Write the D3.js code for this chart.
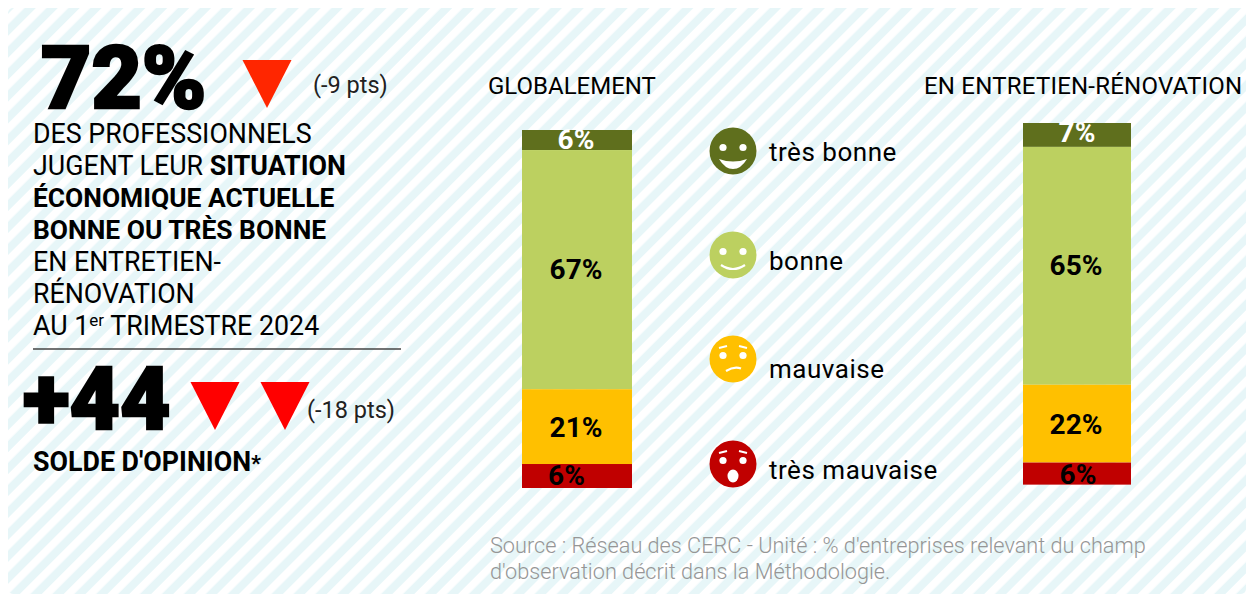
<!DOCTYPE html>
<html>
<head>
<meta charset="utf-8">
<script src="https://cdn.jsdelivr.net/npm/d3@7"></script>
<style>
  html, body { margin: 0; padding: 0; background: #fff; }
  svg { display: block; }
  text { font-family: Roboto, sans-serif; }
</style>
</head>
<body>
<svg id="chart" width="1246" height="594"></svg>
<script>
const categories = ["très bonne", "bonne", "mauvaise", "très mauvaise"];
const colors = ["#5f6f1d", "#bcd060", "#ffc000", "#c00000"];
const globalShares = [5.6, 66.8, 20.9, 6.7];
const globalLabels = ["6%", "67%", "21%", "6%"];
const renovShares = [6.6, 65.7, 21.5, 6.1];
const renovLabels = ["7%", "65%", "22%", "6%"];

const svg = d3.select("#chart");

/* background */
const defs = svg.append("defs");
defs.append("pattern")
  .attr("id", "stripes")
  .attr("patternUnits", "userSpaceOnUse")
  .attr("width", 15.5).attr("height", 16)
  .attr("patternTransform", "rotate(45)")
  .call(p => {
    p.append("rect").attr("width", 15.5).attr("height", 16).attr("fill", "#e7f6f8");
    p.append("rect").attr("width", 7.5).attr("height", 16).attr("fill", "#fff");
  });

svg.append("rect")
  .attr("x", 8).attr("y", 8).attr("width", 1238).attr("height", 586)
  .attr("rx", 5)
  .attr("fill", "url(#stripes)");

/* stacked bars */
function stackBar(shares, labels, x0, x1, yTop, yBottom, labelDy) {
  const y = d3.scaleLinear().domain([0, 100]).range([yTop, yBottom]);
  const x = d3.scaleLinear().domain([0, 1]).range([x0, x1]);
  const cum = d3.cumsum(shares);
  const g = svg.append("g");
  shares.forEach((v, i) => {
    const start = i === 0 ? 0 : cum[i - 1];
    g.append("rect")
      .attr("x", x(0)).attr("width", x(1) - x(0))
      .attr("y", y(start)).attr("height", y(start + v) - y(start))
      .attr("fill", colors[i]);
    g.append("text")
      .attr("x", x(0.5) + labelDy[i][0])
      .attr("y", y(start + v / 2) + labelDy[i][1])
      .attr("text-anchor", "middle")
      .attr("font-size", 28).attr("font-weight", 700)
      .attr("fill", i === 0 ? "#fff" : "#000")
      .text(labels[i]);
  });
}
stackBar(globalShares, globalLabels, 522, 632, 130, 488, [[-1, 9], [-1, 9], [-1, 10], [-10.5, 9]]);
stackBar(renovShares, renovLabels, 1023, 1131, 123, 485, [[0, 7.5], [-1, 9], [-1, 10], [1, 10.5]]);

/* column titles */
const title = (t, x, spacing) => svg.append("text").attr("x", x).attr("y", 94)
  .attr("font-size", 24).attr("letter-spacing", spacing).attr("fill", "#000").text(t);
title("GLOBALEMENT", 488, 0);
title("EN ENTRETIEN-RÉNOVATION", 924, 0.22);

/* legend with smileys */
const legendY = [151, 255, 359, 464];
const labelY = [161, 270, 378, 479];
const legend = svg.append("g").attr("transform", "translate(733,0)");
categories.forEach((c, i) => {
  const g = legend.append("g").attr("transform", `translate(0,${legendY[i]})`);
  g.append("circle").attr("r", 23.5).attr("fill", colors[i]);
  g.append("circle").attr("cx", -10).attr("cy", -3.5).attr("r", 3.6).attr("fill", "#fff");
  g.append("circle").attr("cx", 10).attr("cy", -3.5).attr("r", 3.6).attr("fill", "#fff");
  if (i === 0) {
    g.append("path").attr("d", "M-14,8Q0,13 14,8Q8,18 0,18Q-8,18 -14,8Z").attr("fill", "#fff");
  }
  if (i === 1) {
    g.append("path").attr("d", "M-12,10Q0,18 12,10").attr("fill", "none").attr("stroke", "#fff").attr("stroke-width", 2.2);
  }
  if (i === 2) {
    g.append("path").attr("d", "M-7,12Q1,7 8,9.5").attr("fill", "none").attr("stroke", "#fff").attr("stroke-width", 2.2);
  }
  if (i === 3) {
    g.append("ellipse").attr("cx", 0).attr("cy", 12).attr("rx", 5.5).attr("ry", 6.5).attr("fill", "#fff");
  }
  if (i >= 2) {
    g.append("path").attr("d", "M-14,-11L-6,-13").attr("stroke", "#fff").attr("stroke-width", 2.2);
    g.append("path").attr("d", "M6,-13L14,-11").attr("stroke", "#fff").attr("stroke-width", 2.2);
  }
  svg.append("text").attr("x", 769).attr("y", labelY[i])
    .attr("font-size", 26).attr("letter-spacing", 0.52).attr("fill", "#000").text(c);
});

/* left block: key figures */
const bigText = (t, x, y, size) => svg.append("text").attr("x", x).attr("y", y)
  .attr("font-size", size).attr("font-weight", 900)
  .attr("stroke", "#000").attr("stroke-width", 2.5)
  .attr("fill", "#000").text(t);
bigText("72%", 41, 108, 87);
bigText("+44", 23, 429, 87);

const tri = (cx, top, color) => svg.append("path")
  .attr("d", `M${cx - 24.5},${top}L${cx + 24.5},${top}L${cx},${top + 48}Z`)
  .attr("fill", color);
tri(267, 60, "#ff2600");
tri(215, 382, "#ff0000");
tri(285, 382, "#ff0000");

const note = (t, x, y) => svg.append("text").attr("x", x).attr("y", y)
  .attr("font-size", 23.5).attr("fill", "#222").text(t);
note("(-9 pts)", 313, 93);
note("(-18 pts)", 307, 418);

const leftLines = [
  [["DES PROFESSIONNELS", 400, 26.8]],
  [["JUGENT LEUR ", 400, 26.8], ["SITUATION", 700, 26.8]],
  [["ÉCONOMIQUE ACTUELLE", 700, 26.4]],
  [["BONNE OU TRÈS BONNE", 700, 26.4]],
  [["EN ENTRETIEN-", 400, 26.8]],
  [["RÉNOVATION", 400, 26.8]]
];
leftLines.forEach((parts, i) => {
  const t = svg.append("text").attr("x", 33).attr("y", 143 + i * 32).attr("fill", "#000");
  parts.forEach(p => t.append("tspan").attr("font-weight", p[1]).attr("font-size", p[2]).text(p[0]));
});
const last = svg.append("text").attr("x", 33).attr("y", 335).attr("font-size", 26.8).attr("fill", "#000");
last.append("tspan").text("AU 1");
last.append("tspan").attr("font-size", 17).attr("dy", -9).text("er");
last.append("tspan").attr("dy", 9).text(" TRIMESTRE 2024");

svg.append("line").attr("x1", 33).attr("x2", 401).attr("y1", 349).attr("y2", 349)
  .attr("stroke", "#444").attr("stroke-width", 1.5);

const solde = svg.append("text").attr("x", 33).attr("y", 471).attr("font-size", 26.8).attr("font-weight", 700).attr("fill", "#000");
solde.append("tspan").text("SOLDE D'OPINION");
solde.append("tspan").attr("font-size", 22).text("*");

/* source */
const src = ["Source : Réseau des CERC - Unité : % d'entreprises relevant du champ", "d'observation décrit dans la Méthodologie."];
src.forEach((s, i) => svg.append("text").attr("x", 490).attr("y", 553 + i * 26)
  .attr("font-size", 21.7).attr("font-weight", 300).attr("fill", "#969696").text(s));
</script>
</body>
</html>
